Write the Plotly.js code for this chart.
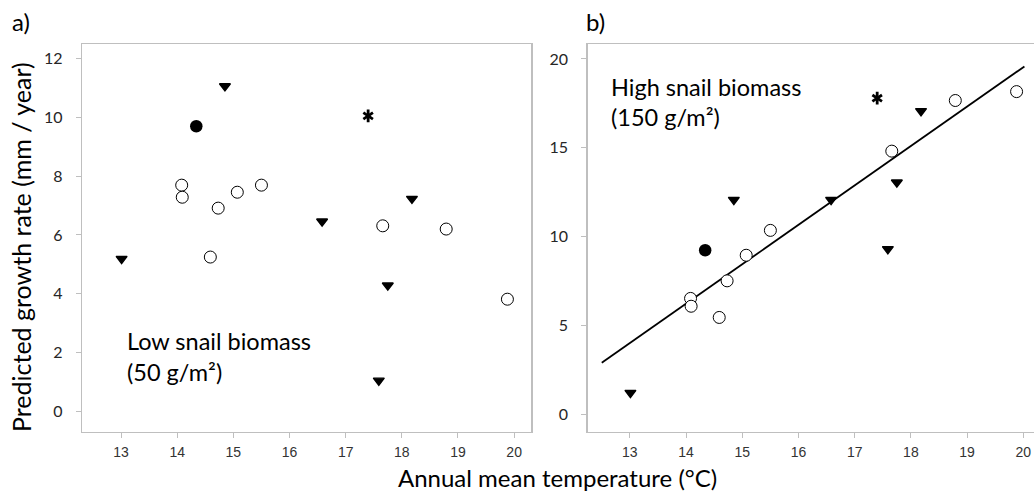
<!DOCTYPE html>
<html>
<head>
<meta charset="utf-8">
<script src="https://cdn.plot.ly/plotly-3.0.1.min.js"></script>
<style>html,body{margin:0;padding:0;background:#fff;}#chart{width:1034px;height:495px;}</style>
</head>
<body>
<div id="chart"></div>
<script>
// Annual mean temperature (°C) per site group
var openX   = [14.08, 14.09, 14.59, 14.73, 15.07, 15.50, 17.66, 18.79, 19.88];
var openLow = [7.69, 7.28, 5.25, 6.91, 7.45, 7.69, 6.31, 6.20, 3.82];
var openHigh= [6.52, 6.08, 5.45, 7.51, 8.95, 10.35, 14.81, 17.66, 18.16];

var triX    = [13.01, 14.85, 16.58, 17.59, 17.75, 18.18];
var triLow  = [5.19, 11.05, 6.46, 1.06, 4.29, 7.23];
var triHigh = [1.21, 12.07, 12.07, 9.30, 13.05, 17.07];

var filledX    = [14.34];
var filledLow  = [9.69];
var filledHigh = [9.23];

var astX    = [17.40];
var astLow  = [10.04];
var astHigh = [17.79];

var fitX = [12.50, 20.02];
var fitY = [2.90, 19.58];

var xTicks = [13, 14, 15, 16, 17, 18, 19, 20];
var yTicksLow  = [0, 2, 4, 6, 8, 10, 12];
var yTicksHigh = [0, 5, 10, 15, 20];

var W = 1034, H = 495;
function px(x){return x / W;}
function py(y){return 1 - y / H;}

var black = '#000000';
function openTrace(x, y, xa, ya){
  return {x:x, y:y, xaxis:xa, yaxis:ya, type:'scatter', mode:'markers', showlegend:false, hoverinfo:'skip',
    marker:{symbol:'circle', size:12, color:'#ffffff', line:{color:black, width:1}}};
}
function filledTrace(x, y, xa, ya){
  return {x:x, y:y, xaxis:xa, yaxis:ya, type:'scatter', mode:'markers', showlegend:false, hoverinfo:'skip',
    marker:{symbol:'circle', size:12.5, color:black, line:{width:0}}};
}
function triTrace(x, y, xa, ya){
  return {x:x, y:y, xaxis:xa, yaxis:ya, type:'scatter', mode:'markers', showlegend:false, hoverinfo:'skip',
    marker:{symbol:'triangle-down', size:9.5, color:black, line:{color:black, width:1.4}}};
}
function astTrace(x, y, xa, ya, sym){
  return {x:x, y:y, xaxis:xa, yaxis:ya, type:'scatter', mode:'markers', showlegend:false, hoverinfo:'skip',
    marker:{symbol:sym, size:8, color:black, line:{color:black, width:2.8}}};
}

var data = [
  openTrace(openX, openLow, 'x', 'y'),
  filledTrace(filledX, filledLow, 'x', 'y'),
  triTrace(triX, triLow, 'x', 'y'),
  astTrace(astX, astLow, 'x', 'y', 'y-up-open'),
  astTrace(astX, astLow, 'x', 'y', 'y-down-open'),
  {x:fitX, y:fitY, xaxis:'x2', yaxis:'y2', type:'scatter', mode:'lines', showlegend:false, hoverinfo:'skip',
    line:{color:black, width:1.8}},
  openTrace(openX, openHigh, 'x2', 'y2'),
  filledTrace(filledX, filledHigh, 'x2', 'y2'),
  triTrace(triX, triHigh, 'x2', 'y2'),
  astTrace(astX, astHigh, 'x2', 'y2', 'y-up-open'),
  astTrace(astX, astHigh, 'x2', 'y2', 'y-down-open')
];

var frame = '#bfbfbf';
var tickFontX = {family:'Liberation Sans, Arial, sans-serif', size:14, color:'#333333'};
var tickFontY = {family:'Lato, sans-serif', size:16, color:'#262626'};
var textFont = {family:'Lato, sans-serif', size:23.5, color:'#000000'};
var labelFont = {family:'Lato, sans-serif', size:24, color:'#000000'};
var yTitleFont = {family:'Lato, sans-serif', size:25, color:'#000000'};

function xAxis(domain, range){
  return {domain:domain, range:range, tickvals:xTicks, ticktext:xTicks.map(String),
    showgrid:false, zeroline:false, showline:true, linecolor:frame, linewidth:1.5, mirror:true,
    ticks:'outside', ticklen:5, tickcolor:frame, tickwidth:1, tickfont:tickFontX, ticklabelstandoff:2};
}
function yAxis(domain, range, ticks, anchor, mirror){
  return {domain:domain, range:range, tickvals:ticks, ticktext:ticks.map(String), anchor:anchor,
    showgrid:false, zeroline:false, showline:true, linecolor:frame, linewidth:1.5, mirror:mirror,
    ticks:'outside', ticklen:5, tickcolor:frame, tickwidth:1, tickfont:tickFontY, ticklabelstandoff:10};
}

var yDom = [py(431.5), py(44)];
var layout = {
  width:W, height:H,
  margin:{l:0, r:0, t:0, b:0},
  paper_bgcolor:'#ffffff', plot_bgcolor:'#ffffff',
  showlegend:false,
  xaxis: xAxis([px(82.3), px(531)], [12.31, 20.30]),
  yaxis: yAxis(yDom, [-0.67, 12.48], yTicksLow, 'x', true),
  xaxis2: Object.assign(xAxis([px(587.7), 1], [12.25, 20.19]), {anchor:'y2'}),
  yaxis2: yAxis(yDom, [-0.97, 20.84], yTicksHigh, 'x2', false),
  annotations: [
    {text:'a)', xref:'paper', yref:'paper', x:px(10), y:py(22), xanchor:'left', yanchor:'middle', showarrow:false, font:labelFont},
    {text:'b)', xref:'paper', yref:'paper', x:px(584), y:py(22), xanchor:'left', yanchor:'middle', showarrow:false, font:labelFont},
    {text:'Low snail biomass', xref:'paper', yref:'paper', x:px(125), y:py(341), xanchor:'left', yanchor:'middle', showarrow:false, font:textFont},
    {text:'(50 g/m²)', xref:'paper', yref:'paper', x:px(125), y:py(372), xanchor:'left', yanchor:'middle', showarrow:false, font:textFont},
    {text:'High snail biomass', xref:'paper', yref:'paper', x:px(609), y:py(87), xanchor:'left', yanchor:'middle', showarrow:false, font:textFont},
    {text:'(150 g/m²)', xref:'paper', yref:'paper', x:px(609), y:py(117), xanchor:'left', yanchor:'middle', showarrow:false, font:textFont},
    {text:'Annual mean temperature (°C)', xref:'paper', yref:'paper', x:px(557), y:py(477), xanchor:'center', yanchor:'middle', showarrow:false, font:labelFont},
    {text:'Predicted growth rate (mm / year)', xref:'paper', yref:'paper', x:px(21), y:py(247), xanchor:'center', yanchor:'middle', textangle:-90, showarrow:false, font:yTitleFont}
  ]
};

Plotly.newPlot('chart', data, layout, {staticPlot:true, displayModeBar:false});
</script>
</body>
</html>
